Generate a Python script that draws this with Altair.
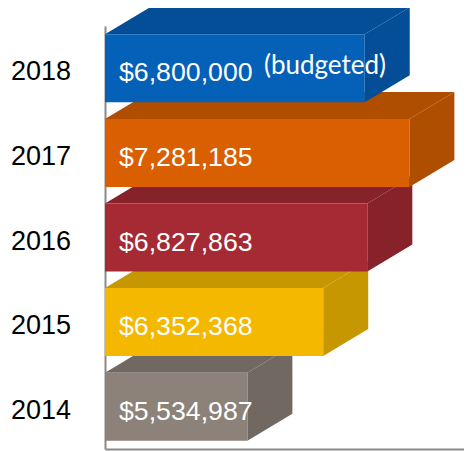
import altair as alt
import pandas as pd

# ---- data ----
years = ["2014", "2015", "2016", "2017", "2018"]
values = [5534987, 6352368, 6827863, 7281185, 6800000]
notes = ["", "", "", "", "(budgeted)"]

# ---- palette ----
front_colors = ["#8C8279", "#F4B800", "#A52A33", "#D95F00", "#0560B8"]
face_colors = ["#716861", "#C69700", "#87212A", "#B04E00", "#044E98"]

# ---- layout ----
W, H = 359, 423
X_MIN, X_MAX = 4_000_000, 7_870_000
px_x = W / (X_MAX - X_MIN)          # pixels per dollar
px_y = H / 5.0                      # pixels per band
DEPTH_X = 45 / px_x                 # 3D depth, horizontal
DEPTH_Y = 27 / px_y                 # 3D depth, vertical
HALF = 34 / px_y                    # half height of the front face

front_rows, top_rows, side_rows = [], [], []
for i, (yr, v, note) in enumerate(zip(years, values, notes)):
    c = i + 0.5
    yb, yt = c - HALF, c + HALF
    front_rows.append(dict(year=yr, value=v, x0=X_MIN, yb=yb, yt=yt, yc=c, note=note))
    # top face (vertical area)
    for x, y, y2 in [(X_MIN, yt, yt), (X_MIN + DEPTH_X, yt, yt + DEPTH_Y),
                     (v, yt, yt + DEPTH_Y), (v + DEPTH_X, yt + DEPTH_Y, yt + DEPTH_Y)]:
        top_rows.append(dict(year=yr, x=x, y=y, y2=y2))
    # side face (horizontal area)
    for y, x, x2 in [(yb, v, v), (yb + DEPTH_Y, v, v + DEPTH_X),
                     (yt, v, v + DEPTH_X), (yt + DEPTH_Y, v + DEPTH_X, v + DEPTH_X)]:
        side_rows.append(dict(year=yr, y=y, x=x, x2=x2))

front = pd.DataFrame(front_rows)
top = pd.DataFrame(top_rows)
side = pd.DataFrame(side_rows)

xs = alt.Scale(domain=[X_MIN, X_MAX], nice=False, zero=False)
ys = alt.Scale(domain=[0, 5], nice=False, zero=False)
face_color = alt.Color("year:N", scale=alt.Scale(domain=years, range=face_colors), legend=None)
front_color = alt.Color("year:N", scale=alt.Scale(domain=years, range=front_colors), legend=None)

x_axis = alt.Axis(title=None, labels=False, ticks=False, grid=False,
                  domainColor="#8a8a8a", domainWidth=2)
y_axis = alt.Axis(title=None, labels=False, ticks=False, grid=False,
                  domainColor="#8a8a8a", domainWidth=2)

top_layer = alt.Chart(top).mark_area(orient="vertical").encode(
    x=alt.X("x:Q", scale=xs, axis=x_axis),
    y=alt.Y("y:Q", scale=ys, axis=y_axis),
    y2="y2:Q",
    color=face_color,
    detail="year:N",
)

side_layer = alt.Chart(side).mark_area(orient="horizontal").encode(
    y=alt.Y("y:Q", scale=ys, axis=y_axis),
    x=alt.X("x:Q", scale=xs, axis=x_axis),
    x2="x2:Q",
    color=face_color,
    detail="year:N",
)

front_layer = alt.Chart(front).mark_rect().encode(
    x=alt.X("x0:Q", scale=xs, axis=x_axis),
    x2="value:Q",
    y=alt.Y("yb:Q", scale=ys, axis=y_axis),
    y2="yt:Q",
    color=front_color,
)

value_text = alt.Chart(front).mark_text(
    align="left", baseline="alphabetic", dx=14, dy=13,
    font="Liberation Sans", fontSize=26.7, color="white",
).encode(
    x=alt.X("x0:Q", scale=xs),
    y=alt.Y("yc:Q", scale=ys),
    text=alt.Text("value:Q", format="$,.0f"),
)

note_text = alt.Chart(front).mark_text(
    align="left", baseline="alphabetic", dx=159, dy=6,
    font="Lato", fontSize=26, color="white",
).encode(
    x=alt.X("x0:Q", scale=xs),
    y=alt.Y("yc:Q", scale=ys),
    text="note:N",
)

year_text = alt.Chart(front).mark_text(
    align="right", baseline="alphabetic", dx=-34, dy=12,
    font="Liberation Sans", fontSize=27, color="black",
).encode(
    x=alt.X("x0:Q", scale=xs),
    y=alt.Y("yc:Q", scale=ys),
    text="year:N",
)

faces = alt.layer(top_layer, side_layer)
chart = alt.layer(faces, front_layer, value_text, note_text, year_text).resolve_scale(
    color="independent"
).properties(
    width=W, height=H,
    autosize=alt.AutoSizeParams(type="none"),
    padding={"left": 97, "top": 18, "right": 0, "bottom": 2},
).configure_view(stroke=None)

chart.save("out.html", embed_options={"renderer": "svg", "actions": False})
